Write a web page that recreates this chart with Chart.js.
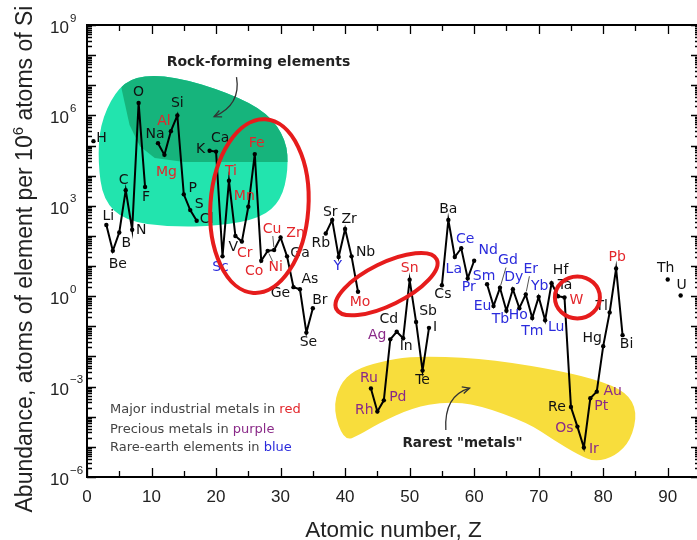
<!DOCTYPE html>
<html>
<head>
<meta charset="utf-8">
<script src="https://cdn.jsdelivr.net/npm/chart.js@4.4.0/dist/chart.umd.min.js"></script>
<style>
  html, body { margin: 0; padding: 0; background: #fff; overflow: hidden; }
  canvas { display: block; }
</style>
</head>
<body>
<canvas id="chart" width="704" height="540"></canvas>
<script>
// element symbols, atomic number Z = index + 1
const symbols = ['H','He','Li','Be','B','C','N','O','F','Ne','Na','Mg','Al','Si','P','S','Cl','Ar','K','Ca',
  'Sc','Ti','V','Cr','Mn','Fe','Co','Ni','Cu','Zn','Ga','Ge','As','Se','Br','Kr','Rb','Sr','Y','Zr',
  'Nb','Mo','Tc','Ru','Rh','Pd','Ag','Cd','In','Sn','Sb','Te','I','Xe','Cs','Ba','La','Ce','Pr','Nd',
  'Pm','Sm','Eu','Gd','Tb','Dy','Ho','Er','Tm','Yb','Lu','Hf','Ta','W','Re','Os','Ir','Pt','Au','Hg',
  'Tl','Pb','Bi','Po','At','Rn','Fr','Ra','Ac','Th','Pa','U'];

// abundance, atoms per 10^6 atoms of Si (null = not shown)
const abundance = [1.4e5, null, 230, 32, 130, 3300, 160, 2.6e6, 4200, null,
  1.2e5, 4.9e4, 3.0e5, 1.0e6, 2400, 720, 320, null, 6.7e4, 6.3e4,
  21, 6800, 100, 65, 930, 5.2e4, 15, 32, 34, 89,
  21, 2.0, 1.7, 0.062, 0.40, null, 120, 340, 20, 170,
  21, 1.4, null, 8.7e-4, 1.5e-4, 3.5e-4, 0.037, 0.066, 0.040, 3.5,
  0.14, 0.0034, 0.089, null, 2.3, 340, 20, 39, 3.9, 15,
  null, 2.5, 0.47, 1.9, 0.33, 1.7, 0.40, 1.15, 0.19, 0.95,
  0.16, 2.7, 1.0, 0.91, 2.1e-4, 4.7e-5, 9.5e-6, 4.1e-4, 6.8e-4, 0.022,
  0.29, 8.3, 0.051, null, null, null, null, null, null, 3.6,
  null, 1.05];

const xTickValues = [0, 10, 20, 30, 40, 50, 60, 70, 80, 90];
const yTickExponents = [9, 6, 3, 0, -3, -6];

const industrialMetals = ['Mg','Al','Ti','Cr','Mn','Fe','Co','Ni','Cu','Zn','Mo','Sn','W','Pb'];
const preciousMetals = ['Ru','Rh','Pd','Ag','Os','Ir','Pt','Au'];
const rareEarths = ['Sc','Y','La','Ce','Pr','Nd','Sm','Eu','Gd','Tb','Dy','Ho','Er','Tm','Yb','Lu'];

// label placement relative to the point (pixels)
const labelOffset = {
  H:[8,-3], Li:[2,-9], Be:[5,14], B:[7,11], C:[-2,-10], N:[9,1], O:[0,-11], F:[1,10],
  Na:[-3,-9], Mg:[2,17], Al:[-7,-10], Si:[0,-12], P:[9,-6], S:[9,-6], Cl:[10,-1],
  K:[-9,-1], Ca:[4,-13], Sc:[-2,11], Ti:[2,-9], V:[-2,11], Cr:[3,12], Mn:[-4,-10],
  Fe:[2,-11], Co:[-7,11], Ni:[8,17], Cu:[-2,-21], Zn:[15,-4], Ga:[13,-3], Ge:[-13,6],
  As:[10,-10], Se:[2,10], Br:[7,-8], Rb:[-5,10], Sr:[-2,-8], Y:[-1,9], Zr:[4,-10],
  Nb:[14,-4], Mo:[2,11], Ru:[-2,-10], Rh:[-13,-1], Pd:[14,-3], Ag:[-13,-4], Cd:[-8,-12],
  In:[3,8], Sn:[0,-11], Sb:[12,-11], Te:[0,10], I:[6,0], Cs:[1,9], Ba:[0,-11], La:[-1,12],
  Ce:[4,-9], Pr:[1,9], Nd:[14,-10], Sm:[-3,-8], Eu:[-11,0], Gd:[8,-27], Tb:[-6,9],
  Dy:[1,-12], Ho:[-1,7], Er:[5,-25], Tm:[0,13], Yb:[1,-11], Lu:[11,7], Hf:[9,-13],
  Ta:[7,-11], W:[12,3], Re:[-14,0], Os:[-13,2], Ir:[10,2], Pt:[11,8], Au:[16,0],
  Hg:[-11,-8], Tl:[-8,-6], Pb:[1,-11], Bi:[4,9], Th:[-2,-11], U:[1,-10]
};
const leaderLines = ['Ni','Cu','Gd','Er'];

const RED = '#e3262b', PURPLE = '#8a2a88', BLUE = '#2b2bdc';
const SANS = '"Liberation Sans", Arial, sans-serif';
const LABEL_FONT = '14px "DejaVu Sans", sans-serif';

// decorative regions, in (Z, log10 abundance)
const rockBlob = [[7.4,7.31],[13.4,7.31],[22.1,6.74],[28.0,6.08],[30.9,5.18],[31.2,4.19],[30.1,3.19],
  [27.0,2.59],[20.5,2.33],[12.8,2.30],[5.9,2.50],[2.5,3.19],[1.7,4.45],[2.0,5.68],[4.3,6.78]];
const rockDark = [[4.8,7.6],[5.4,6.84],[6.6,5.68],[8.2,4.98],[10.5,4.59],[15.1,4.45],[33,4.45],[33,7.9]];
const rareBlob = [[38.15,-3.78],[39.1,-2.95],[41.4,-2.45],[45.3,-2.18],[50.4,-1.98],[60.7,-2.05],
  [71.05,-2.38],[78.8,-2.75],[83.6,-3.18],[85.3,-3.84],[84.3,-4.77],[81.9,-5.30],[78.8,-5.50],
  [76.2,-5.27],[72.3,-4.77],[68.4,-4.21],[60.7,-3.61],[55.6,-3.50],[50.4,-3.71],[45.3,-4.21],
  [42.2,-4.61],[39.85,-4.81]];

function toPx(chart, z, l) {
  return [chart.scales.x.getPixelForValue(z), chart.scales.y.getPixelForValue(Math.pow(10, l))];
}

function smoothClosed(ctx, pts) {
  const n = pts.length;
  const mid = (a, b) => [(a[0] + b[0]) / 2, (a[1] + b[1]) / 2];
  const m0 = mid(pts[n - 1], pts[0]);
  ctx.beginPath();
  ctx.moveTo(m0[0], m0[1]);
  for (let i = 0; i < n; i++) {
    const p = pts[i], m = mid(p, pts[(i + 1) % n]);
    ctx.quadraticCurveTo(p[0], p[1], m[0], m[1]);
  }
  ctx.closePath();
}

function arrow(ctx, a, c, b) {
  ctx.beginPath();
  ctx.moveTo(a[0], a[1]);
  ctx.quadraticCurveTo(c[0], c[1], b[0], b[1]);
  ctx.stroke();
  const ang = Math.atan2(b[1] - c[1], b[0] - c[0]);
  ctx.beginPath();
  ctx.moveTo(b[0] - 8 * Math.cos(ang - 0.45), b[1] - 8 * Math.sin(ang - 0.45));
  ctx.lineTo(b[0], b[1]);
  ctx.lineTo(b[0] - 8 * Math.cos(ang + 0.45), b[1] - 8 * Math.sin(ang + 0.45));
  ctx.stroke();
}

const backdrop = {
  id: 'backdrop',
  beforeDatasetsDraw(chart) {
    const ctx = chart.ctx;
    const P = (p) => toPx(chart, p[0], p[1]);
    ctx.save();
    smoothClosed(ctx, rockBlob.map(P));
    ctx.fillStyle = '#22e4ae';
    ctx.fill();
    ctx.clip();
    ctx.beginPath();
    rockDark.map(P).forEach((p, i) => i ? ctx.lineTo(p[0], p[1]) : ctx.moveTo(p[0], p[1]));
    ctx.closePath();
    ctx.fillStyle = '#16b47c';
    ctx.fill();
    ctx.restore();

    ctx.save();
    smoothClosed(ctx, rareBlob.map(P));
    ctx.fillStyle = '#f8dd3c';
    ctx.fill();
    ctx.restore();
  }
};

function colorOf(s) {
  if (industrialMetals.includes(s)) return RED;
  if (preciousMetals.includes(s)) return PURPLE;
  if (rareEarths.includes(s)) return BLUE;
  return '#111';
}

const overlay = {
  id: 'overlay',
  afterDatasetsDraw(chart) {
    const ctx = chart.ctx;
    const xs = chart.scales.x, ys = chart.scales.y;
    const a = chart.chartArea;
    const P = (z, l) => toPx(chart, z, l);
    ctx.save();

    // element labels
    ctx.font = LABEL_FONT;
    ctx.textAlign = 'center';
    ctx.textBaseline = 'middle';
    symbols.forEach((s, i) => {
      if (abundance[i] == null) return;
      const px = xs.getPixelForValue(i + 1), py = ys.getPixelForValue(abundance[i]);
      const off = labelOffset[s] || [0, -10];
      const lx = px + off[0], ly = py + off[1];
      if (leaderLines.includes(s)) {
        const d = Math.hypot(off[0], off[1]);
        const ux = off[0] / d, uy = off[1] / d;
        ctx.strokeStyle = '#555';
        ctx.lineWidth = 1;
        ctx.beginPath();
        ctx.moveTo(px + ux * 3, py + uy * 3);
        ctx.lineTo(lx - ux * 7, ly - uy * 7);
        ctx.stroke();
      }
      ctx.fillStyle = colorOf(s);
      ctx.fillText(s, lx, ly);
    });

    // red rings
    ctx.strokeStyle = '#e61c1c';
    ctx.lineWidth = 4;
    [[26.72, 2.99, 49, 87, 0.07], [46.42, 0.40, 56, 21, -0.46], [76.0, -0.04, 22.5, 21, 0]].forEach(e => {
      const c = P(e[0], e[1]);
      ctx.beginPath();
      ctx.ellipse(c[0], c[1], e[2], e[3], e[4], 0, Math.PI * 2);
      ctx.stroke();
    });

    // frame with inward ticks
    ctx.strokeStyle = '#000';
    ctx.lineWidth = 2;
    ctx.strokeRect(a.left, a.top, a.right - a.left, a.bottom - a.top);
    ctx.lineWidth = 1.3;
    ctx.beginPath();
    for (let e = -6; e <= 9; e++) {
      for (let k = 1; k <= 9; k++) {
        const v = k * Math.pow(10, e);
        if (v > 1e9 * 1.0001) break;
        const y = Math.round(ys.getPixelForValue(v)) + 0.5;
        const len = k === 1 ? 9 : 5;
        ctx.moveTo(a.left, y); ctx.lineTo(a.left + len, y);
        ctx.moveTo(a.right, y); ctx.lineTo(a.right - len, y);
      }
    }
    for (let z = 0; z <= 95; z += 5) {
      const x = Math.round(xs.getPixelForValue(z)) + 0.5;
      const len = z % 10 === 0 ? 9 : 6;
      ctx.moveTo(x, a.bottom); ctx.lineTo(x, a.bottom - len);
      ctx.moveTo(x, a.top); ctx.lineTo(x, a.top + len);
    }
    ctx.stroke();

    // tick labels
    ctx.fillStyle = '#222';
    ctx.font = '17px ' + SANS;
    ctx.textAlign = 'center';
    ctx.textBaseline = 'alphabetic';
    xTickValues.forEach(v => ctx.fillText(String(v), xs.getPixelForValue(v), 502));
    ctx.textAlign = 'left';
    yTickExponents.forEach(e => {
      const y = ys.getPixelForValue(Math.pow(10, e));
      ctx.font = '17px ' + SANS;
      ctx.fillText('10', 50, y + 8);
      const w = ctx.measureText('10').width;
      ctx.font = '11.5px ' + SANS;
      ctx.fillText(e < 0 ? '\u2212' + (-e) : String(e), 50 + w + 1, y - 3.5);
    });

    // axis titles
    ctx.font = '22.5px ' + SANS;
    ctx.textAlign = 'center';
    ctx.fillText('Atomic number, Z', (a.left + a.right) / 2, 537);
    ctx.save();
    ctx.translate(31.5, 259);
    ctx.rotate(-Math.PI / 2);
    const t1 = 'Abundance, atoms of element per 10', t2 = '6', t3 = ' atoms of Si';
    ctx.font = '23px ' + SANS;
    const w1 = ctx.measureText(t1).width, w3 = ctx.measureText(t3).width;
    ctx.font = '15px ' + SANS;
    const w2 = ctx.measureText(t2).width;
    let x0 = -(w1 + w2 + w3) / 2;
    ctx.textAlign = 'left';
    ctx.font = '23px ' + SANS;
    ctx.fillText(t1, x0, 0);
    ctx.font = '15px ' + SANS;
    ctx.fillText(t2, x0 + w1, -9);
    ctx.font = '23px ' + SANS;
    ctx.fillText(t3, x0 + w1 + w2, 0);
    ctx.restore();

    // annotations
    ctx.fillStyle = '#222';
    ctx.strokeStyle = '#333';
    ctx.lineWidth = 1.3;
    ctx.font = 'bold 14px "DejaVu Sans", sans-serif';
    ctx.textAlign = 'center';
    ctx.textBaseline = 'middle';
    const r1 = P(26.57, 7.77);
    ctx.fillText('Rock-forming elements', r1[0], r1[1]);
    arrow(ctx, P(23.17, 7.27), P(23.9, 6.35), P(19.7, 5.96));
    const r2 = P(58.19, -4.88);
    ctx.font = 'bold 13.5px "DejaVu Sans", sans-serif';
    ctx.fillText('Rarest "metals"', r2[0], r2[1]);
    arrow(ctx, P(55.61, -4.44), P(55.3, -3.3), P(59.3, -3.05));

    // colour key
    ctx.textAlign = 'left';
    ctx.font = '13px "DejaVu Sans", sans-serif';
    [['Major industrial metals in ', 'red', RED, 410],
     ['Precious metals in ', 'purple', PURPLE, 430],
     ['Rare-earth elements in ', 'blue', BLUE, 448]].forEach(r => {
      ctx.fillStyle = '#444';
      ctx.fillText(r[0], 110, r[3]);
      const w = ctx.measureText(r[0]).width;
      ctx.fillStyle = r[2];
      ctx.fillText(r[1], 110 + w, r[3]);
    });
    ctx.restore();
  }
};

new Chart(document.getElementById('chart'), {
  type: 'line',
  data: {
    datasets: [{
      data: symbols.map((s, i) => ({ x: i + 1, y: abundance[i] })),
      borderColor: '#000',
      borderWidth: 2,
      pointRadius: 2.2,
      pointBackgroundColor: '#000',
      pointBorderWidth: 0,
      spanGaps: false,
      tension: 0
    }]
  },
  options: {
    responsive: false,
    animation: false,
    devicePixelRatio: 1,
    layout: { padding: { left: 87, top: 25, right: 2, bottom: 63 } },
    scales: {
      x: { type: 'linear', min: 0, max: 95, display: false },
      y: { type: 'logarithmic', min: 1e-6, max: 1e9, display: false }
    },
    plugins: { legend: { display: false }, tooltip: { enabled: false } }
  },
  plugins: [backdrop, overlay]
});
</script>
</body>
</html>
